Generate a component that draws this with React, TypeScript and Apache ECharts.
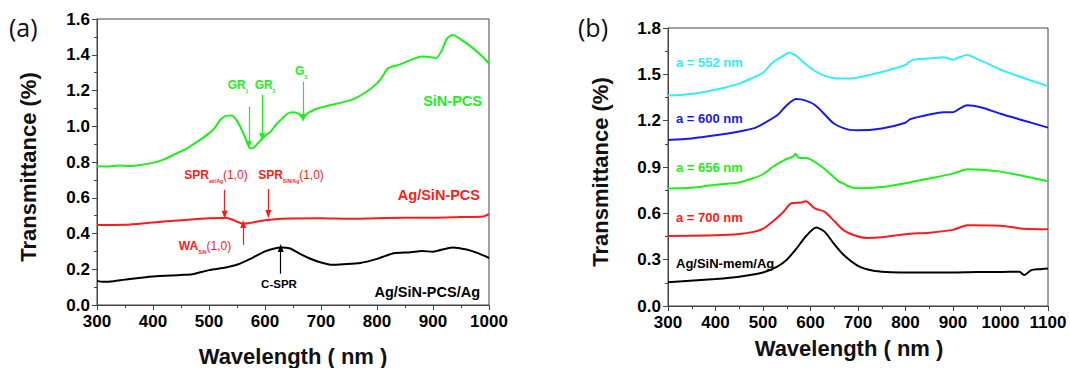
import React, { useEffect, useRef } from "react";
import * as echarts from "echarts";

// Panel (a)
const aGreenX = [300,320,340,360,380,400,420,440,460,480,500,510,520,530,540,550,560,570,575,580,590,600,610,620,630,640,650,660,668,675,690,700,720,740,760,780,800,810,820,840,860,880,900,905,915,925,935,950,970,990,1000];
const aGreenY = [0.776,0.775,0.78,0.778,0.785,0.795,0.815,0.845,0.875,0.915,0.96,0.99,1.035,1.058,1.06,1.03,0.97,0.895,0.875,0.88,0.915,0.945,0.97,1.01,1.04,1.07,1.078,1.07,1.045,1.07,1.095,1.105,1.12,1.135,1.155,1.19,1.24,1.28,1.325,1.345,1.37,1.39,1.385,1.38,1.42,1.49,1.51,1.485,1.44,1.385,1.35];
const aRedX = [300,350,400,450,500,530,540,550,560,570,580,600,630,700,750,800,850,900,950,990,1000];
const aRedY = [0.448,0.449,0.462,0.474,0.485,0.487,0.48,0.466,0.455,0.457,0.463,0.474,0.483,0.485,0.482,0.486,0.488,0.488,0.492,0.495,0.51];
const aBlackX = [300,310,330,350,400,450,470,500,530,550,565,580,600,615,630,645,660,680,700,720,740,770,800,815,830,860,880,900,910,935,960,980,1000];
const aBlackY = [0.135,0.13,0.133,0.142,0.16,0.168,0.172,0.195,0.21,0.225,0.245,0.268,0.3,0.315,0.322,0.316,0.29,0.26,0.238,0.225,0.228,0.235,0.258,0.275,0.29,0.295,0.302,0.298,0.305,0.322,0.31,0.29,0.263];

// Panel (b)
const bCyanX = [300,350,400,450,480,500,520,540,555,570,590,610,630,650,680,700,750,800,805,815,830,860,880,900,915,930,950,980,1000,1050,1100];
const bCyanY = [1.363,1.373,1.40,1.44,1.48,1.51,1.575,1.615,1.64,1.62,1.565,1.52,1.49,1.475,1.473,1.48,1.515,1.56,1.575,1.592,1.6,1.605,1.61,1.595,1.612,1.625,1.6,1.56,1.53,1.475,1.423];
const bBlueX = [300,350,400,450,480,500,530,550,570,590,610,630,650,680,700,750,800,810,850,880,900,915,930,960,1000,1050,1100];
const bBlueY = [1.075,1.085,1.105,1.13,1.15,1.18,1.235,1.3,1.34,1.33,1.3,1.24,1.18,1.142,1.138,1.15,1.187,1.21,1.24,1.255,1.255,1.28,1.30,1.285,1.245,1.2,1.155];
const bGreenX = [300,350,400,450,480,500,520,545,565,568,575,590,600,620,640,660,672,675,690,700,750,800,850,900,930,960,1000,1050,1100];
const bGreenY = [0.76,0.765,0.785,0.80,0.828,0.853,0.9,0.945,0.97,0.985,0.96,0.958,0.95,0.91,0.86,0.805,0.79,0.782,0.765,0.762,0.77,0.795,0.825,0.857,0.885,0.882,0.87,0.84,0.808];
const bRedX = [300,400,450,480,500,520,540,560,580,590,610,630,650,670,700,720,750,800,850,900,930,1000,1050,1100];
const bRedY = [0.454,0.458,0.466,0.48,0.50,0.545,0.6,0.665,0.67,0.678,0.63,0.61,0.55,0.49,0.45,0.44,0.445,0.465,0.475,0.493,0.523,0.52,0.50,0.497];
const bBlackX = [300,400,450,500,530,550,570,590,612,630,650,670,700,730,760,800,900,950,1000,1040,1045,1050,1055,1065,1080,1100];
const bBlackY = [0.153,0.175,0.19,0.217,0.255,0.3,0.37,0.45,0.508,0.48,0.40,0.33,0.26,0.23,0.22,0.217,0.217,0.22,0.22,0.222,0.21,0.2,0.21,0.232,0.238,0.243];

// Annotation arrows (panel a): [x, yFrom, yTo]
const arrowsGreen = [[571, 1.11, 0.895], [595, 1.177, 0.94], [668, 1.25, 1.046]];
const arrowsRed = [[528, 0.645, 0.505], [606, 0.649, 0.509], [561, 0.337, 0.453]];
const arrowsBlack = [[628, 0.175, 0.319]];

const GREEN = "#1bf01b";
const RED = "#ff1a1a";
const CYAN = "#33eef5";
const BLUE = "#1a1ae6";
const BLACK = "#000000";
const AXIS = "#444444";
const FONT = "'Liberation Sans', Arial, Helvetica, sans-serif";

const zip = (xs: number[], ys: number[]) => xs.map((x, i) => [x, ys[i]]);

function arrowMarks(list: number[][], color: string) {
  return {
    silent: true,
    symbol: ["none", "triangle"],
    symbolSize: [6, 8],
    label: { show: false },
    lineStyle: { color, width: 1.2, type: "solid" },
    emphasis: { disabled: true },
    data: list.map(([x, y0, y1]) => [
      { coord: [x, y0], symbol: "none" },
      { coord: [x, y1], symbol: "triangle", symbolRotate: y1 < y0 ? 180 : 0 },
    ]),
  };
}

function lineSeries(xs: number[], ys: number[], color: string, idx: number, extra: any = {}) {
  return {
    type: "line",
    xAxisIndex: idx,
    yAxisIndex: idx,
    data: zip(xs, ys),
    showSymbol: false,
    smooth: 0.25,
    lineStyle: { color, width: 2 },
    itemStyle: { color },
    silent: true,
    ...extra,
  };
}

const tickStyle = { color: AXIS, width: 1 };

const richLabel = {
  b: { color: "#000", fontFamily: FONT, fontWeight: "bold", fontSize: 17 },
};

function xAxis(idx: number, min: number, max: number) {
  return {
    type: "value",
    gridIndex: idx,
    min,
    max,
    interval: 100,
    axisLine: { show: true, onZero: false, lineStyle: { color: AXIS, width: 1 } },
    axisTick: { show: true, inside: false, length: 5, lineStyle: tickStyle },
    minorTick: { show: true, splitNumber: 2, length: 3, lineStyle: tickStyle },
    splitLine: { show: false },
    minorSplitLine: { show: false },
    axisLabel: {
      color: "#000",
      fontFamily: FONT,
      fontWeight: "bold",
      fontSize: 17,
      margin: 8,
      rich: richLabel,
      formatter: (v: number) => `{b|${v}}`,
    },
  };
}

function yAxis(idx: number, max: number, interval: number, dec: number) {
  return {
    type: "value",
    gridIndex: idx,
    min: 0,
    max,
    interval,
    axisLine: { show: true, onZero: false, lineStyle: { color: AXIS, width: 1 } },
    axisTick: { show: true, inside: false, length: 5, lineStyle: tickStyle },
    minorTick: { show: true, splitNumber: 2, length: 3, lineStyle: tickStyle },
    splitLine: { show: false },
    minorSplitLine: { show: false },
    axisLabel: {
      color: "#000",
      fontFamily: FONT,
      fontWeight: "bold",
      fontSize: 17,
      margin: 7,
      rich: richLabel,
      formatter: (v: number) => `{b|${v.toFixed(dec)}}`,
    },
  };
}

function txt(x: number, y: number, text: string, color: string, size: number, align = "center", extra: any = {}) {
  return {
    type: "text",
    x,
    y,
    silent: true,
    style: {
      text,
      fill: color,
      fontFamily: FONT,
      fontWeight: "bold",
      fontSize: size,
      align,
      verticalAlign: "middle",
      ...extra,
    },
  };
}

function sub(x: number, y: number, main: string, s: string, tail: string, color: string, size: number) {
  return {
    type: "text",
    x,
    y,
    silent: true,
    style: {
      text: `{m|${main}}{s|${s}}{t|${tail}}`,
      fill: color,
      align: "center",
      verticalAlign: "middle",
      rich: {
        m: { fill: color, fontFamily: FONT, fontWeight: "bold", fontSize: size, lineHeight: size + 4, verticalAlign: "middle" },
        s: { fill: color, fontFamily: FONT, fontWeight: "bold", fontSize: Math.round(size * 0.45), verticalAlign: "bottom", lineHeight: size + 4 },
        t: { fill: color, fontFamily: FONT, fontWeight: "normal", fontSize: size, lineHeight: size + 4, verticalAlign: "middle" },
      },
    },
  };
}

export default function App() {
  const ref = useRef<HTMLDivElement>(null);
  useEffect(() => {
    document.body.style.margin = "0";
    const chart = echarts.init(ref.current!, undefined, { renderer: "svg" });
    chart.setOption({
      animation: false,
      backgroundColor: "#fff",
      textStyle: { fontFamily: FONT },
      grid: [
        { left: 97, right: 581, top: 19, bottom: 63, show: true, borderColor: AXIS, borderWidth: 1, backgroundColor: "transparent" },
        { left: 668, right: 22, top: 28, bottom: 62, show: true, borderColor: AXIS, borderWidth: 1, backgroundColor: "transparent" },
      ],
      xAxis: [xAxis(0, 300, 1000), xAxis(1, 300, 1100)],
      yAxis: [yAxis(0, 1.6, 0.2, 1), yAxis(1, 1.8, 0.3, 1)],
      series: [
        lineSeries(aGreenX, aGreenY, GREEN, 0, { markLine: arrowMarks(arrowsGreen, GREEN) }),
        lineSeries(aRedX, aRedY, RED, 0, { markLine: arrowMarks(arrowsRed, RED) }),
        lineSeries(aBlackX, aBlackY, BLACK, 0, { markLine: arrowMarks(arrowsBlack, BLACK) }),
        lineSeries(bCyanX, bCyanY, CYAN, 1),
        lineSeries(bBlueX, bBlueY, BLUE, 1),
        lineSeries(bGreenX, bGreenY, GREEN, 1),
        lineSeries(bRedX, bRedY, RED, 1),
        lineSeries(bBlackX, bBlackY, BLACK, 1),
      ],
      graphic: [
        txt(9, 27, "(a)", "#111", 25, "left", { fontWeight: "normal", fontFamily: "'Open Sans', sans-serif" }),
        txt(578, 27, "(b)", "#111", 25, "left", { fontWeight: "normal", fontFamily: "'Open Sans', sans-serif" }),
        { ...txt(28, 167, "Transmittance (%)", "#111", 22), rotation: Math.PI / 2 },
        { ...txt(600, 172, "Transmittance (%)", "#111", 22), rotation: Math.PI / 2 },
        txt(293, 356, "Wavelength ( nm )", "#111", 22),
        txt(849, 348, "Wavelength ( nm )", "#111", 22),
        txt(482, 101, "SiN-PCS", GREEN, 14.5, "right"),
        txt(480, 195, "Ag/SiN-PCS", RED, 14.5, "right"),
        txt(480, 292, "Ag/SiN-PCS/Ag", BLACK, 14.5, "right"),
        sub(238, 85, "GR", "1", "", GREEN, 12),
        sub(265, 85, "GR", "2", "", GREEN, 12),
        sub(301, 71, "G", "3", "", GREEN, 12),
        sub(216, 175, "SPR", "air/Ag", "(1,0)", RED, 12),
        sub(291, 175, "SPR", "SiN/Ag", "(1,0)", RED, 12),
        sub(205, 246, "WA", "SiN", "(1,0)", RED, 12),
        txt(279, 284, "C-SPR", BLACK, 11.5),
        txt(676, 62, "a = 552 nm", CYAN, 13, "left"),
        txt(676, 118, "a = 600 nm", BLUE, 13, "left"),
        txt(676, 167, "a = 656 nm", GREEN, 13, "left"),
        txt(676, 217, "a = 700 nm", RED, 13, "left"),
        txt(676, 263, "Ag/SiN-mem/Ag", BLACK, 13, "left"),
      ],
    });
    return () => chart.dispose();
  }, []);
  return <div ref={ref} style={{ width: 1070, height: 368 }} />;
}
